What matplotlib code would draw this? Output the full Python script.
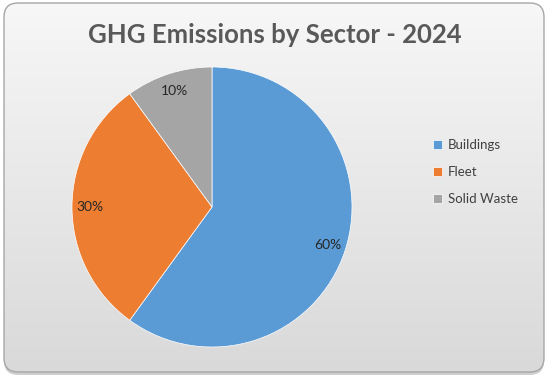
import numpy as np
import matplotlib
matplotlib.use('Agg')
import matplotlib.pyplot as plt
from matplotlib.patches import FancyBboxPatch

# data
sectors = ['Buildings', 'Fleet', 'Solid Waste']
shares = [60, 30, 10]
colors = ['#5B9BD5', '#ED7D31', '#A5A5A5']
title = 'GHG Emissions by Sector - 2024'

plt.rcParams['font.family'] = ['Lato', 'DejaVu Sans']

fig = plt.figure(figsize=(5.5, 3.82), dpi=100)
fig.patch.set_facecolor('white')

# background card with gradient + shadow
bg = fig.add_axes([0, 0, 1, 1])
bg.axis('off')
shadow = FancyBboxPatch((4, 6), 540, 369, boxstyle='round,pad=0,rounding_size=14',
                        facecolor='#a0a0a0', edgecolor='none', alpha=0.5)
bg.add_patch(shadow)
card = FancyBboxPatch((4, 3), 540, 369, boxstyle='round,pad=0,rounding_size=14',
                      facecolor='none', edgecolor='#a6a6a6', linewidth=1.0, zorder=3)
bg.add_patch(card)
grad = np.linspace(0, 1, 256).reshape(-1, 1)
cmap = matplotlib.colors.LinearSegmentedColormap.from_list('g', ['#f7f7f7', '#d9d9d9'])
im = bg.imshow(grad, cmap=cmap, extent=(4, 544, 372, 3), aspect='auto', zorder=2)
im.set_clip_path(FancyBboxPatch((4, 3), 540, 369, boxstyle='round,pad=0,rounding_size=14',
                                transform=bg.transData))
bg.set_xlim(0, 550)
bg.set_ylim(382, 0)

fig.text(0.5, 1 - 43 / 382, title, ha='center', va='baseline', fontsize=18.5,
         fontweight='bold', color='#595959')

ax = fig.add_axes([72 / 550, 35 / 382, 280 / 550, 280 / 382])
ax.set_facecolor('none')
wedges, texts, autotexts = ax.pie(shares, colors=colors, startangle=90, counterclock=False,
                                  autopct='%d%%', pctdistance=0.87, radius=1,
                                  wedgeprops=dict(linewidth=0.5, edgecolor='white'),
                                  textprops=dict(fontsize=10, color='#262626'))
ax.set_xlim(-1, 1)
ax.set_ylim(-1, 1)
ax.set_aspect('equal')

leg = fig.legend(wedges, sectors, loc='upper left', bbox_to_anchor=(421 / 550, 1 - 127 / 382),
                 frameon=False, fontsize=9.5, labelcolor='#404040', handlelength=0.7,
                 handleheight=0.7, handletextpad=0.45, labelspacing=1.15)

fig.savefig('out.png', dpi=100)
